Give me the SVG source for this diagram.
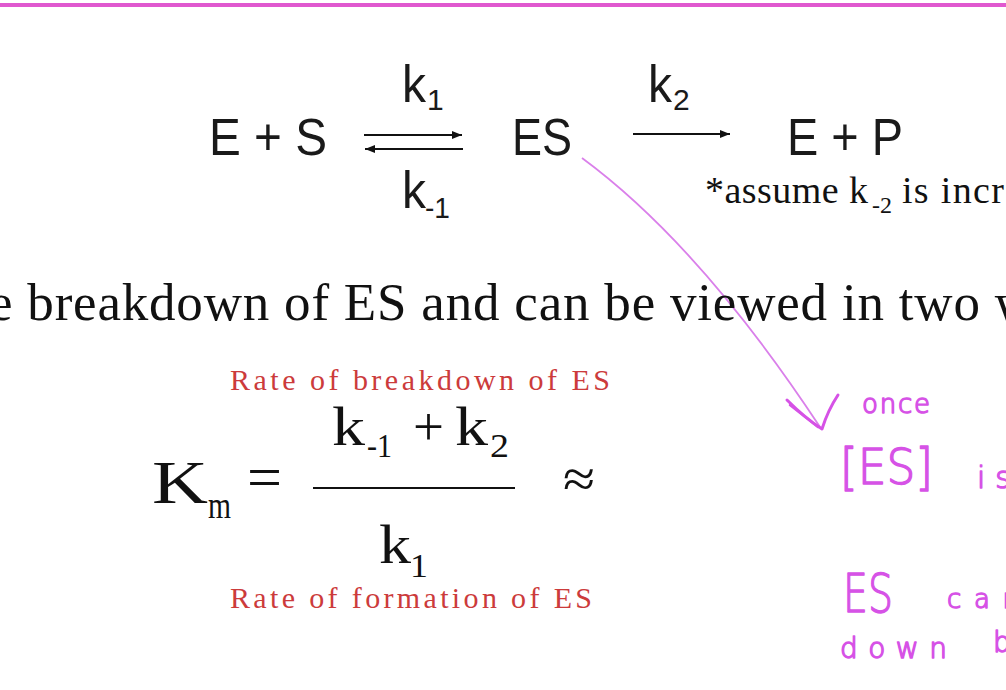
<svg xmlns="http://www.w3.org/2000/svg" width="1006" height="690" viewBox="0 0 1006 690">
<style>
.sans{font-family:"Liberation Sans",Arial,sans-serif;fill:#1a1a1a}
.serif{font-family:"Liberation Serif","Times New Roman",serif;fill:#111}
.red{font-family:"Liberation Serif","Times New Roman",serif;fill:#cc3b3b;font-size:30px}
.hand{font-family:"DejaVu Sans","Noto Sans",sans-serif;font-weight:200;fill:#d652e6;stroke:#d652e6;stroke-width:1.4;stroke-linejoin:round}
.rx{stroke:#111;stroke-width:2;fill:none}
</style>
<defs>
<marker id="ah" viewBox="0 0 10 8" refX="10" refY="4" markerWidth="10" markerHeight="8" markerUnits="userSpaceOnUse" orient="auto">
<path d="M0,0 L10,4 L0,8 Z" fill="#111"/>
</marker>
</defs>
<rect width="1006" height="690" fill="#fff"/>
<rect x="0" y="3" width="1006" height="4" fill="#e058cf"/>

<g id="connectors">
<line class="rx" x1="364" y1="135" x2="462" y2="135" marker-end="url(#ah)"/>
<line class="rx" x1="463" y1="149" x2="365" y2="149" marker-end="url(#ah)"/>
<line class="rx" x1="633" y1="134" x2="730" y2="134" marker-end="url(#ah)"/>
<path d="M582,158 Q700,245 820,427" fill="none" stroke="#da80ea" stroke-width="1.8"/>
<path d="M787,400 Q805,418 822,429 Q828,410 838,395" fill="none" stroke="#d652e6" stroke-width="3" stroke-linecap="round" stroke-linejoin="round"/>
<path d="M790,405 L818,427" fill="none" stroke="#d652e6" stroke-width="2.5" stroke-linecap="round"/>
</g>

<g id="node-ES-substrate">
<text class="sans" x="209" y="155" font-size="52" textLength="118" lengthAdjust="spacingAndGlyphs">E + S</text>
</g>
<g id="node-ES">
<text class="sans" x="512" y="155" font-size="52" textLength="60" lengthAdjust="spacingAndGlyphs">ES</text>
</g>
<g id="node-EP">
<text class="sans" x="787" y="155" font-size="52" textLength="116" lengthAdjust="spacingAndGlyphs">E + P</text>
</g>
<g id="rate-labels">
<text class="sans" x="402" y="102" font-size="52" textLength="24" lengthAdjust="spacingAndGlyphs">k</text>
<text class="sans" x="427" y="110" font-size="30">1</text>
<text class="sans" x="648" y="102" font-size="52" textLength="24" lengthAdjust="spacingAndGlyphs">k</text>
<text class="sans" x="673" y="110" font-size="30">2</text>
<text class="sans" x="402" y="208" font-size="52" textLength="24" lengthAdjust="spacingAndGlyphs">k</text>
<text class="sans" x="425" y="218" font-size="30" textLength="25" lengthAdjust="spacingAndGlyphs">-1</text>
</g>

<g id="note">
<text class="serif" x="705" y="203" font-size="38" textLength="163" lengthAdjust="spacing">*assume k</text>
<text class="serif" x="872" y="213" font-size="24">-2</text>
<text class="serif" x="902" y="203" font-size="38" textLength="120" lengthAdjust="spacing">is incre</text>
</g>

<g id="sentence">
<text class="serif" x="-11" y="320" font-size="53" textLength="1044" lengthAdjust="spacing">e breakdown of ES and can be viewed in two w</text>
</g>

<g id="formula">
<text class="red" x="230" y="390" textLength="380" lengthAdjust="spacing">Rate of breakdown of ES</text>
<text class="serif" x="152" y="503" font-size="62" textLength="56" lengthAdjust="spacingAndGlyphs">K</text>
<text class="serif" x="208" y="518" font-size="38" textLength="23" lengthAdjust="spacingAndGlyphs">m</text>
<text class="serif" x="247" y="498" font-size="62" textLength="35" lengthAdjust="spacingAndGlyphs">=</text>
<text class="serif" x="332" y="445" font-size="54" textLength="33" lengthAdjust="spacingAndGlyphs">k</text>
<text class="serif" x="367" y="457" font-size="34" textLength="25" lengthAdjust="spacingAndGlyphs">-1</text>
<text class="serif" x="413" y="445" font-size="54" textLength="31" lengthAdjust="spacingAndGlyphs">+</text>
<text class="serif" x="455" y="445" font-size="54" textLength="33" lengthAdjust="spacingAndGlyphs">k</text>
<text class="serif" x="490" y="457" font-size="34" textLength="19" lengthAdjust="spacingAndGlyphs">2</text>
<line x1="313" y1="488" x2="515" y2="488" stroke="#111" stroke-width="2"/>
<text class="serif" x="563" y="497" font-size="54" textLength="32" lengthAdjust="spacingAndGlyphs">≈</text>
<text class="serif" x="379" y="563" font-size="54" textLength="32" lengthAdjust="spacingAndGlyphs">k</text>
<text class="serif" x="410" y="577" font-size="34" textLength="18" lengthAdjust="spacingAndGlyphs">1</text>
<text class="red" x="230" y="608" textLength="362" lengthAdjust="spacing">Rate of formation of ES</text>
</g>

<g id="handwriting">
<text class="hand" x="862" y="413" font-size="26" textLength="68" lengthAdjust="spacing">once</text>
<text class="hand" x="840" y="484" font-size="50" textLength="93" lengthAdjust="spacingAndGlyphs">[ES]</text>
<text class="hand" x="977" y="488" font-size="30" textLength="34" lengthAdjust="spacing">is</text>
<text class="hand" x="843" y="612" font-size="54" textLength="50" lengthAdjust="spacingAndGlyphs">ES</text>
<text class="hand" x="947" y="608" font-size="26" textLength="72" lengthAdjust="spacing">can</text>
<text class="hand" x="840" y="658" font-size="28" textLength="107" lengthAdjust="spacing">down</text>
<text class="hand" x="993" y="652" font-size="28">b</text>
</g>
</svg>
